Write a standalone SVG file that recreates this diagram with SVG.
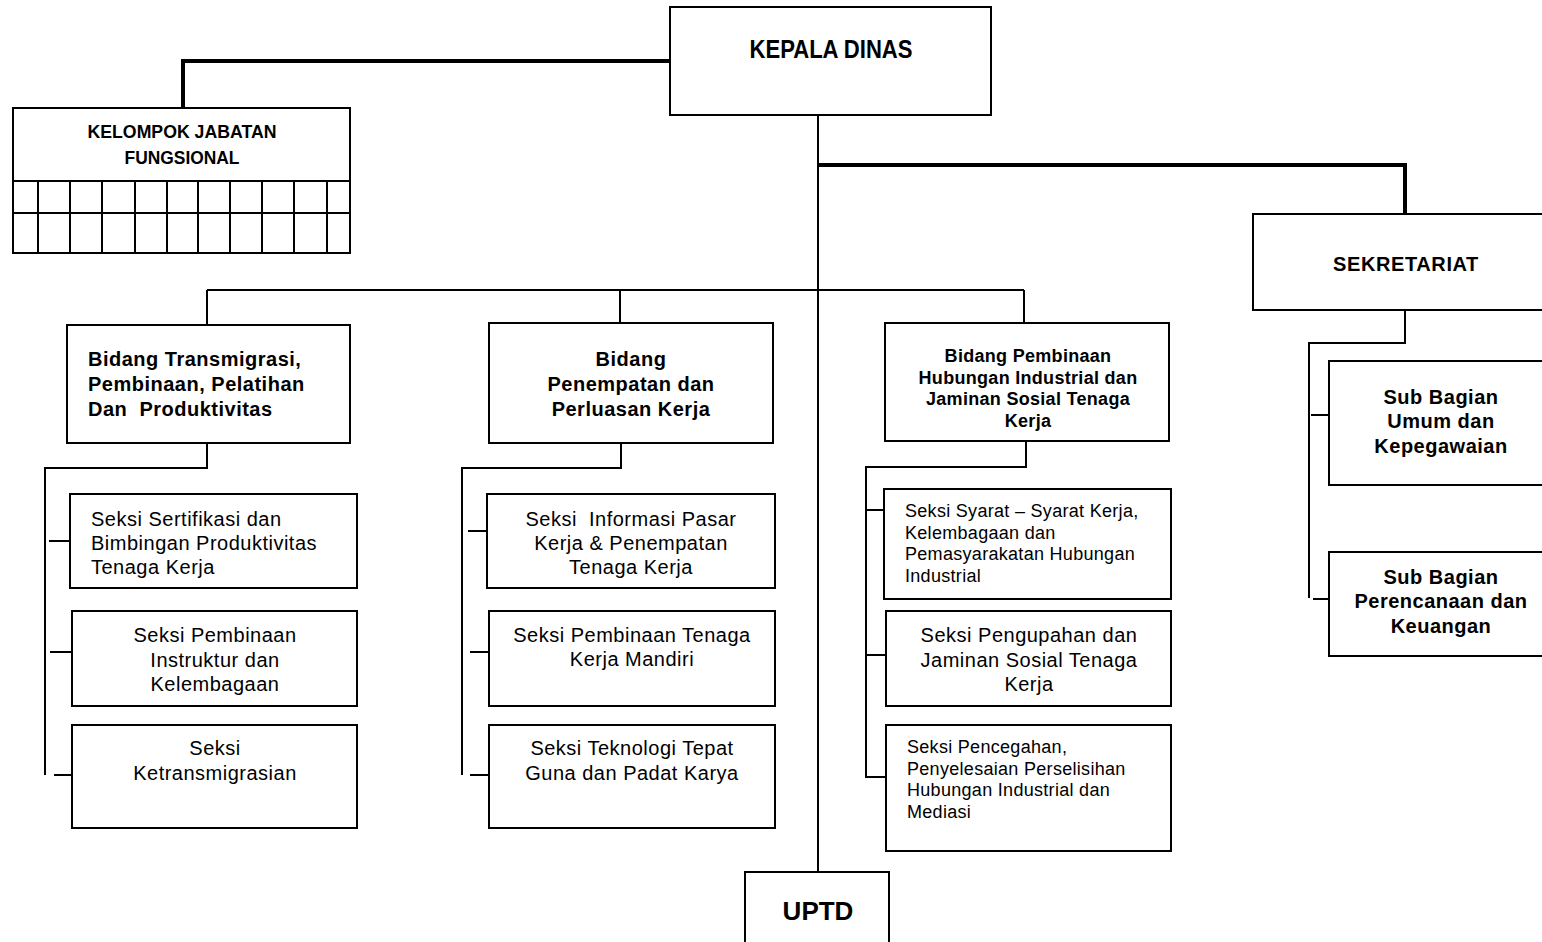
<svg xmlns="http://www.w3.org/2000/svg" width="1542" height="942" viewBox="0 0 1542 942">
<style>
.box{fill:#fff;stroke:#000;stroke-width:2}
.ln{fill:none;stroke:#000;stroke-width:2}
.thk{fill:none;stroke:#000;stroke-width:4}
text{font-family:"Liberation Sans",Arial,sans-serif;fill:#000}
.b{font-weight:bold}
.n{font-family:"Liberation Sans Narrow","Liberation Sans",Arial,sans-serif;font-weight:bold}
.c{text-anchor:middle}
.s20{font-size:20px;letter-spacing:0.5px}
.s16{font-size:18px;letter-spacing:0.3px}
</style>
<rect width="1542" height="942" fill="#fff"/>
<g id="connectors">
<polyline class="thk" points="670,61 183,61 183,108"/>
<polyline class="thk" points="818,165 1405,165 1405,214"/>
<line class="ln" x1="818" y1="115" x2="818" y2="872"/>
<line class="ln" x1="207" y1="290" x2="1024" y2="290"/>
<line class="ln" x1="207" y1="290" x2="207" y2="325"/>
<line class="ln" x1="620" y1="290" x2="620" y2="323"/>
<line class="ln" x1="1024" y1="290" x2="1024" y2="323"/>
<polyline class="ln" points="207,443 207,468 45,468 45,775"/>
<line class="ln" x1="49" y1="541" x2="70" y2="541"/>
<line class="ln" x1="50" y1="652" x2="72" y2="652"/>
<line class="ln" x1="54" y1="775" x2="72" y2="775"/>
<polyline class="ln" points="621,443 621,468 462,468 462,775"/>
<line class="ln" x1="468" y1="531" x2="487" y2="531"/>
<line class="ln" x1="470" y1="652" x2="489" y2="652"/>
<line class="ln" x1="470" y1="775" x2="489" y2="775"/>
<polyline class="ln" points="1026,441 1026,467 866,467 866,777 886,777"/>
<line class="ln" x1="866" y1="510" x2="884" y2="510"/>
<line class="ln" x1="866" y1="655" x2="886" y2="655"/>
<polyline class="ln" points="1405,310 1405,343 1309,343 1309,598"/>
<line class="ln" x1="1311" y1="415" x2="1329" y2="415"/>
<line class="ln" x1="1313" y1="599" x2="1329" y2="599"/>
</g>
<g id="kepala-dinas">
<rect class="box" x="670" y="7" width="321" height="108"/>
<text class="n c" x="831" y="58" font-size="25" textLength="163" lengthAdjust="spacingAndGlyphs">KEPALA DINAS</text>
</g>
<g id="kelompok-jabatan-fungsional">
<rect class="box" x="13" y="108" width="337" height="145"/>
<line class="ln" x1="13" y1="181" x2="350" y2="181"/>
<line class="ln" x1="13" y1="213" x2="350" y2="213"/>
<path class="ln" d="M38,181V253M70,181V253M102,181V253M135,181V253M167,181V253M198,181V253M230,181V253M262,181V253M294,181V253M327,181V253"/>
<text class="n c" x="182" y="138" font-size="18" textLength="189" lengthAdjust="spacingAndGlyphs">KELOMPOK JABATAN</text>
<text class="n c" x="182" y="164" font-size="18" textLength="115" lengthAdjust="spacingAndGlyphs">FUNGSIONAL</text>
</g>
<g id="sekretariat">
<rect class="box" x="1253" y="214" width="300" height="96"/>
<text class="b c" x="1406" y="271" font-size="20" letter-spacing="0.6">SEKRETARIAT</text>
</g>
<g id="sub-bagian-umum">
<rect class="box" x="1329" y="361" width="224" height="124"/>
<text class="b c s20" x="1441" y="404">Sub Bagian</text>
<text class="b c s20" x="1441" y="428">Umum dan</text>
<text class="b c s20" x="1441" y="453">Kepegawaian</text>
</g>
<g id="sub-bagian-perencanaan">
<rect class="box" x="1329" y="552" width="224" height="104"/>
<text class="b c s20" x="1441" y="584">Sub Bagian</text>
<text class="b c s20" x="1441" y="608">Perencanaan dan</text>
<text class="b c s20" x="1441" y="633">Keuangan</text>
</g>
<g id="bidang-transmigrasi">
<rect class="box" x="67" y="325" width="283" height="118"/>
<text class="b s20" x="88" y="366">Bidang Transmigrasi,</text>
<text class="b s20" x="88" y="391" xml:space="preserve">Pembinaan, Pelatihan</text>
<text class="b s20" x="88" y="416" xml:space="preserve">Dan  Produktivitas</text>
</g>
<g id="seksi-sertifikasi">
<rect class="box" x="70" y="494" width="287" height="94"/>
<text class="s20" x="91" y="526">Seksi Sertifikasi dan</text>
<text class="s20" x="91" y="550">Bimbingan Produktivitas</text>
<text class="s20" x="91" y="574">Tenaga Kerja</text>
</g>
<g id="seksi-pembinaan-instruktur">
<rect class="box" x="72" y="611" width="285" height="95"/>
<text class="c s20" x="215" y="642">Seksi Pembinaan</text>
<text class="c s20" x="215" y="667">Instruktur dan</text>
<text class="c s20" x="215" y="691">Kelembagaan</text>
</g>
<g id="seksi-ketransmigrasian">
<rect class="box" x="72" y="725" width="285" height="103"/>
<text class="c s20" x="215" y="755">Seksi</text>
<text class="c s20" x="215" y="780">Ketransmigrasian</text>
</g>
<g id="bidang-penempatan">
<rect class="box" x="489" y="323" width="284" height="120"/>
<text class="b c s20" x="631" y="366">Bidang</text>
<text class="b c s20" x="631" y="391">Penempatan dan</text>
<text class="b c s20" x="631" y="416">Perluasan Kerja</text>
</g>
<g id="seksi-informasi-pasar">
<rect class="box" x="487" y="494" width="288" height="94"/>
<text class="c s20" x="631" y="526" xml:space="preserve">Seksi  Informasi Pasar</text>
<text class="c s20" x="631" y="550">Kerja &amp; Penempatan</text>
<text class="c s20" x="631" y="574">Tenaga Kerja</text>
</g>
<g id="seksi-pembinaan-tenaga-kerja-mandiri">
<rect class="box" x="489" y="611" width="286" height="95"/>
<text class="c s20" x="632" y="642">Seksi Pembinaan Tenaga</text>
<text class="c s20" x="632" y="666">Kerja Mandiri</text>
</g>
<g id="seksi-teknologi">
<rect class="box" x="489" y="725" width="286" height="103"/>
<text class="c s20" x="632" y="755">Seksi Teknologi Tepat</text>
<text class="c s20" x="632" y="780">Guna dan Padat Karya</text>
</g>
<g id="bidang-hubungan-industrial">
<rect class="box" x="885" y="323" width="284" height="118"/>
<text class="b c s16" x="1028" y="362">Bidang Pembinaan</text>
<text class="b c s16" x="1028" y="384">Hubungan Industrial dan</text>
<text class="b c s16" x="1028" y="405">Jaminan Sosial Tenaga</text>
<text class="b c s16" x="1028" y="427">Kerja</text>
</g>
<g id="seksi-syarat-kerja">
<rect class="box" x="884" y="489" width="287" height="110"/>
<text class="s16" x="905" y="517">Seksi Syarat – Syarat Kerja,</text>
<text class="s16" x="905" y="539">Kelembagaan dan</text>
<text class="s16" x="905" y="560">Pemasyarakatan Hubungan</text>
<text class="s16" x="905" y="582">Industrial</text>
</g>
<g id="seksi-pengupahan">
<rect class="box" x="886" y="611" width="285" height="95"/>
<text class="c s20" x="1029" y="642">Seksi Pengupahan dan</text>
<text class="c s20" x="1029" y="667">Jaminan Sosial Tenaga</text>
<text class="c s20" x="1029" y="691">Kerja</text>
</g>
<g id="seksi-pencegahan">
<rect class="box" x="886" y="725" width="285" height="126"/>
<text class="s16" x="907" y="753">Seksi Pencegahan,</text>
<text class="s16" x="907" y="775">Penyelesaian Perselisihan</text>
<text class="s16" x="907" y="796">Hubungan Industrial dan</text>
<text class="s16" x="907" y="818">Mediasi</text>
</g>
<g id="uptd">
<rect class="box" x="745" y="872" width="144" height="80"/>
<text class="b c" x="818" y="920" font-size="26">UPTD</text>
</g>
</svg>
